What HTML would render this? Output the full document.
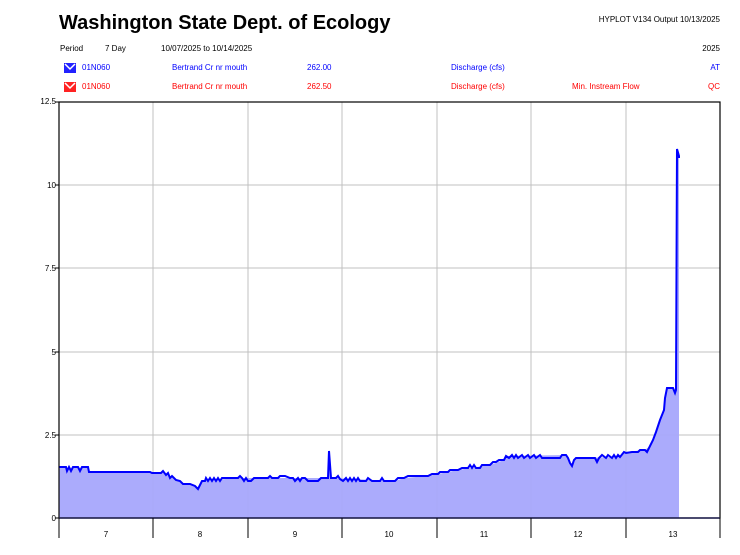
<!DOCTYPE html>
<html><head><meta charset="utf-8"><style>
body{margin:0;background:#fff;}
svg{display:block;font-family:"Liberation Sans",Arial,sans-serif;}
</style></head><body>
<svg width="740" height="555" viewBox="0 0 740 555">
<defs>
<path id="d" d="M59 467 L66 467 L67 471 L69 467 L71 471 L73 467 L78 467 L80 471 L82 467 L88 467 L89 472 L150 472 L152 473 L161 473 L163 471 L166 475 L168 473 L170 478 L172 476 L176 480 L180 481 L183 484 L190 484 L195 486 L198 489 L200 485 L202 481 L205 481 L206 478 L208 481 L210 478 L212 481 L214 478 L216 481 L218 478 L220 481 L222 478 L238 478 L240 476 L242 478 L244 481 L246 478 L248 481 L251 481 L254 478 L268 478 L270 476 L272 478 L278 478 L280 476 L285 476 L290 478 L293 478 L295 481 L298 478 L300 481 L302 478 L305 478 L308 481 L318 481 L321 478 L328 478 L329 451 L331 478 L336 478 L338 476 L340 479 L343 481 L346 478 L348 481 L350 478 L352 481 L354 478 L356 481 L358 478 L360 481 L366 481 L368 478 L372 481 L380 481 L382 478 L384 481 L395 481 L398 478 L404 478 L408 476 L428 476 L432 474 L438 474 L440 472 L448 472 L450 470 L458 470 L462 468 L468 468 L470 465 L472 468 L474 465 L476 468 L480 468 L482 465 L490 465 L493 462 L496 462 L499 460 L504 460 L506 456 L509 458 L512 455 L514 458 L516 455 L518 458 L522 455 L524 458 L528 455 L530 458 L534 455 L536 458 L540 455 L542 458 L560 458 L562 455 L566 455 L568 458 L570 463 L572 466 L574 460 L576 458 L595 458 L597 462 L599 458 L602 455 L606 458 L608 455 L612 458 L614 455 L616 458 L618 455 L620 457 L624 452 L626 453 L632 452 L638 452 L640 450 L645 450 L647 452 L650 446 L653 440 L656 432 L658 426 L660 420 L662 415 L664 410 L665 398 L667 388 L673 388 L675 393 L676 390 L677 149 L679 156 L679 158"/>
</defs>
<text x="59" y="29" font-size="20" font-weight="bold" fill="#000">Washington State Dept. of Ecology</text>
<text x="720" y="22" font-size="8" text-anchor="end">HYPLOT V134  Output 10/13/2025</text>
<text x="60" y="51" font-size="8">Period</text>
<text x="105" y="51" font-size="8">7 Day</text>
<text x="161" y="51" font-size="8">10/07/2025  to  10/14/2025</text>
<text x="720" y="51" font-size="8" text-anchor="end">2025</text>
<g font-size="8" fill="#0000ff">
<text x="82" y="70">01N060</text><text x="172" y="70">Bertrand Cr nr mouth</text><text x="307" y="70">262.00</text><text x="451" y="70">Discharge (cfs)</text><text x="720" y="70" text-anchor="end">AT</text></g>
<g font-size="8" fill="#ff0000">
<text x="82" y="89">01N060</text><text x="172" y="89">Bertrand Cr nr mouth</text><text x="307" y="89">262.50</text><text x="451" y="89">Discharge (cfs)</text><text x="572" y="89">Min. Instream Flow</text><text x="720" y="89" text-anchor="end">QC</text></g>
<path d="M64 63h12v10h-12z" fill="#2222ff"/><path d="M65 64l5 5l5-5" stroke="#fff" fill="none" stroke-width="1.5"/>
<path d="M64 82h12v10h-12z" fill="#ff2222"/><path d="M65 83l5 5l5-5" stroke="#fff" fill="none" stroke-width="1.5"/>
<g stroke="#c0c0c0" stroke-width="1">
<line x1="153" y1="102" x2="153" y2="518"/><line x1="248" y1="102" x2="248" y2="518"/><line x1="342" y1="102" x2="342" y2="518"/><line x1="437" y1="102" x2="437" y2="518"/><line x1="531" y1="102" x2="531" y2="518"/><line x1="626" y1="102" x2="626" y2="518"/>
<line x1="59" y1="435" x2="720" y2="435"/><line x1="59" y1="352" x2="720" y2="352"/><line x1="59" y1="268" x2="720" y2="268"/><line x1="59" y1="185" x2="720" y2="185"/>
</g>
<path d="M59 467 L66 467 L67 471 L69 467 L71 471 L73 467 L78 467 L80 471 L82 467 L88 467 L89 472 L150 472 L152 473 L161 473 L163 471 L166 475 L168 473 L170 478 L172 476 L176 480 L180 481 L183 484 L190 484 L195 486 L198 489 L200 485 L202 481 L238 478 L328 478 L329 451 L331 478 L395 481 L404 478 L428 476 L438 474 L458 470 L490 465 L504 460 L506 456 L566 455 L570 463 L572 466 L576 458 L620 457 L624 452 L645 450 L650 446 L656 432 L660 420 L664 410 L667 388 L673 388 L676 390 L677 149 L679 156 L679 518 L59 518 Z" fill="#a6a6fc" fill-opacity="0.95"/>
<use href="#d" fill="none" stroke="#0000ff" stroke-width="2"/>
<rect x="59" y="102" width="661" height="416" fill="none" stroke="#000" stroke-width="1.2"/>
<line x1="59" y1="518" x2="720" y2="518" stroke="#202050" stroke-width="1.5"/>
<g stroke="#000" stroke-width="1"><line x1="59" y1="518" x2="59" y2="538"/><line x1="153" y1="518" x2="153" y2="538"/><line x1="248" y1="518" x2="248" y2="538"/><line x1="342" y1="518" x2="342" y2="538"/><line x1="437" y1="518" x2="437" y2="538"/><line x1="531" y1="518" x2="531" y2="538"/><line x1="626" y1="518" x2="626" y2="538"/><line x1="720" y1="518" x2="720" y2="538"/>
<line x1="55" y1="102" x2="59" y2="102"/><line x1="55" y1="185" x2="59" y2="185"/><line x1="55" y1="268" x2="59" y2="268"/><line x1="55" y1="352" x2="59" y2="352"/><line x1="55" y1="435" x2="59" y2="435"/><line x1="55" y1="518" x2="59" y2="518"/></g>
<g font-size="8" text-anchor="end"><text x="56" y="104">12.5</text><text x="56" y="188">10</text><text x="56" y="271">7.5</text><text x="56" y="355">5</text><text x="56" y="438">2.5</text><text x="56" y="521">0</text></g>
<g font-size="8" text-anchor="middle"><text x="106" y="537">7</text><text x="200" y="537">8</text><text x="295" y="537">9</text><text x="389" y="537">10</text><text x="484" y="537">11</text><text x="578" y="537">12</text><text x="673" y="537">13</text></g>
</svg>
</body></html>
